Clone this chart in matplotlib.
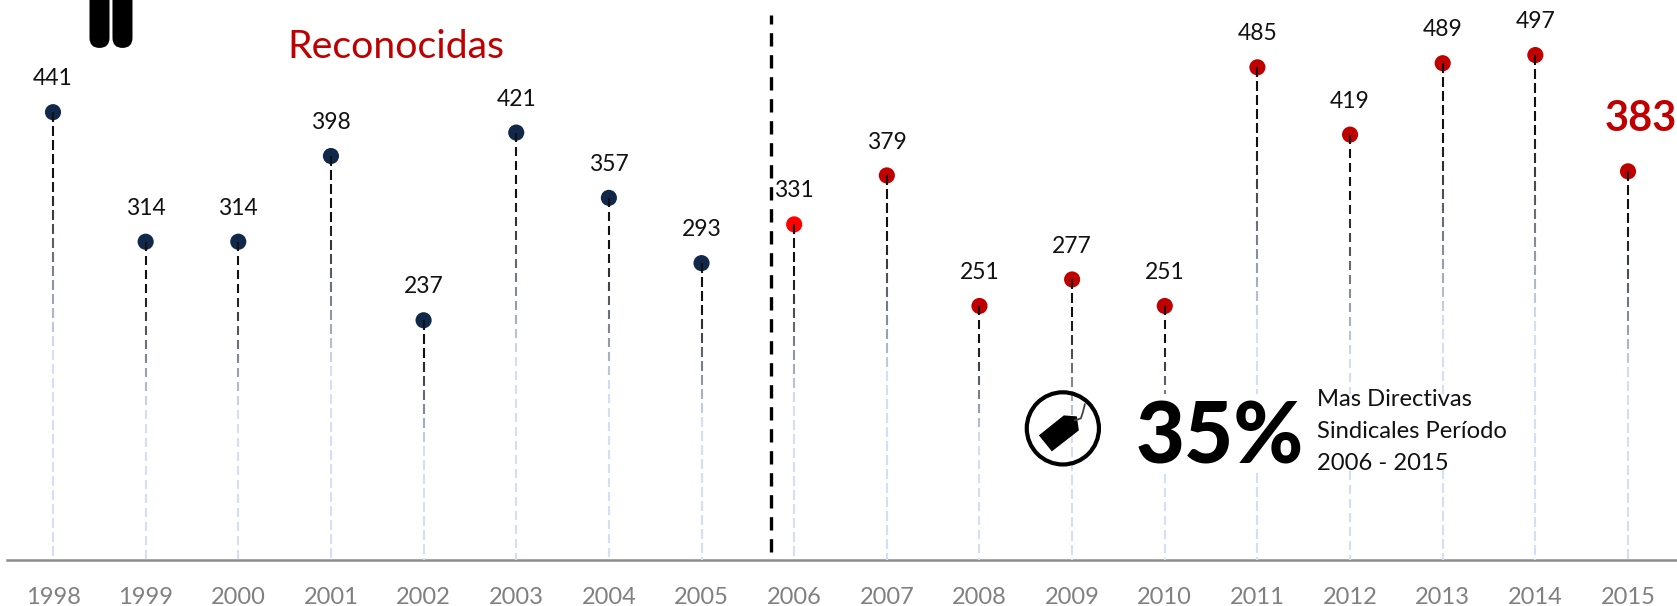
import numpy as np
import matplotlib
matplotlib.use("Agg")
import matplotlib.pyplot as plt
from matplotlib.collections import LineCollection
from matplotlib.colors import to_rgb
from matplotlib.patches import FancyBboxPatch, Polygon, Rectangle

plt.rcParams['font.family'] = ['Lato', 'DejaVu Sans']

years = [1998, 1999, 2000, 2001, 2002, 2003, 2004, 2005, 2006,
         2007, 2008, 2009, 2010, 2011, 2012, 2013, 2014, 2015]
directivas = [441, 314, 314, 398, 237, 421, 357, 293, 331,
              379, 251, 277, 251, 485, 419, 489, 497, 383]
colores = ['#12284a'] * 8 + ['#ff0000'] + ['#c00000'] * 9

W, H = 1677, 606
fig = plt.figure(figsize=(W / 100, H / 100), dpi=100)
ax = fig.add_axes([0, 0, 1, 1])

# escala: 92.65 px por anio, 1.02 px por directiva
px_x = 92.65
px_y = 1.02
ax.set_xlim(1998 - 53 / px_x, 2015 + 49 / px_x)
ax.set_ylim(-44 / px_y, 562 / px_y)
ax.axis('off')

base = 1.5
negro = np.array(to_rgb('#111111'))
azul = np.array(to_rgb('#d3dff4'))


def color_en(y, v):
    # cada linea va de negro a azul claro hasta la mitad de su largo
    t = np.clip(((v - y) / v - 0.15) / 0.37, 0, 1)
    return tuple(negro * (1 - t) + azul * t)


ax.scatter(years, directivas, s=135, c=colores, zorder=2, linewidths=0)

# lineas punteadas con degradado
for x, v in zip(years, directivas):
    segs, cols = [], []
    y = v
    while y > base:
        y2 = max(y - 9.5 / px_y, base)
        segs.append([(x, y), (x, y2)])
        cols.append(color_en((y + y2) / 2, v))
        y = y2 - 4.5 / px_y
    ax.add_collection(LineCollection(segs, colors=cols, linewidths=1.5, zorder=3))

for x, v in zip(years[:-1], directivas[:-1]):
    ax.annotate(str(v), (x, v), xytext=(0, 16.5), textcoords='offset points',
                ha='center', va='bottom', fontsize=16.5, color='#111111')
ax.annotate(str(directivas[-1]), (years[-1], directivas[-1]), xytext=(9.5, 24),
            textcoords='offset points', ha='center', va='bottom', fontsize=30,
            fontweight='bold', color='#c00000')

# eje
ax.plot([1998 - 46 / px_x, 2015 + 49 / px_x], [base, base], color='#8c8c8c', lw=1.8, zorder=1)
for x in years:
    ax.annotate(str(x), (x, base), xytext=(0, -19), textcoords='offset points',
                ha='center', va='top', fontsize=17, color='#808080')

# separacion de periodos
ax.plot([2005.75, 2005.75], [10, 536], color='black', lw=2.4, dashes=(4, 2.6), zorder=2)

ax.text(2000.53, 505, 'Reconocidas', fontsize=28.3, color='#c00000', ha='left', va='center')

# icono superior izquierdo
for x0 in (1998.394, 1998.642):
    ax.add_patch(FancyBboxPatch((x0, 504), 0.216, 80,
                                boxstyle='round,pad=0,rounding_size=0.108',
                                mutation_aspect=91, fc='black', ec='none'))

# indicador 35 %
ax.add_patch(Rectangle((2009.55, 90), 4.15, 75, fc='white', ec='none', zorder=4))

cx, cy = 2008.9, 131
ax.scatter([cx], [cy], s=2700, facecolor='none', edgecolor='black', linewidths=3, zorder=5)
etiqueta = [(-24, 7), (-11, 23), (16, 2), (14, -12), (1, -13)]
ax.add_patch(Polygon([(cx + dx / px_x, cy - dy / px_y) for dx, dy in etiqueta],
                     closed=True, fc='black', ec='none', zorder=5))
ax.add_patch(plt.Circle((cx + 9 / px_x, cy + 5 / px_y), 0.02, fc='white', ec='none', zorder=6))
ax.plot([cx + 12 / px_x, cx + 18 / px_x, cx + 20 / px_x, cx + 22 / px_x],
        [cy + 8 / px_y, cy + 10 / px_y, cy + 16 / px_y, cy + 24 / px_y],
        color='#444444', lw=1.3, zorder=5)

ax.text(2009.69, 121, '35%', fontsize=61, fontweight='black', color='black',
        ha='left', va='center', zorder=6)
ax.text(2011.64, 128, 'Mas Directivas\nSindicales Período\n2006 - 2015', fontsize=17.1,
        color='#111111', ha='left', va='center', linespacing=1.65, zorder=6)

fig.savefig('out.png', dpi=100, facecolor='white')
